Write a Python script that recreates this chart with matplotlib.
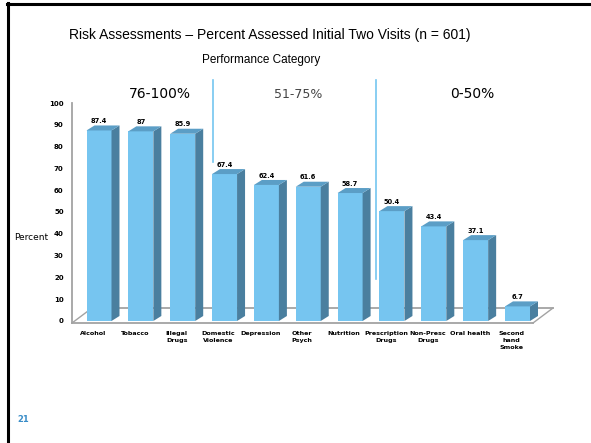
import matplotlib
matplotlib.use("Agg")
import matplotlib.pyplot as plt
from matplotlib.patches import Polygon, Rectangle
from matplotlib.lines import Line2D
import matplotlib.transforms as mtransforms

categories = ["Alcohol", "Tobacco", "Illegal\nDrugs", "Domestic\nViolence", "Depression",
              "Other\nPsych", "Nutrition", "Prescription\nDrugs", "Non-Presc\nDrugs",
              "Oral health", "Second\nhand\nSmoke"]
values = [87.4, 87, 85.9, 67.4, 62.4, 61.6, 58.7, 50.4, 43.4, 37.1, 6.7]
value_labels = ["87.4", "87", "85.9", "67.4", "62.4", "61.6", "58.7", "50.4", "43.4", "37.1", "6.7"]
yticks = [0, 10, 20, 30, 40, 50, 60, 70, 80, 90, 100]
groups = ["76-100%", "51-75%", "0-50%"]

W, H = 591, 443
fig = plt.figure(figsize=(W / 100, H / 100), dpi=100)

def fx(px):
    return px / W

def fy(py):
    return 1 - py / H

ax_l, ax_r, ax_b, ax_t = 72, 553, 323, 103
ax = fig.add_axes([fx(ax_l), fy(ax_b), (ax_r - ax_l) / W, (ax_b - ax_t) / H])
xpp = 41.85  # pixels per category
ypp = (ax_b - ax_t) / 100.92
x0 = -(99 - ax_l) / xpp
ax.set_xlim(x0, x0 + (ax_r - ax_l) / xpp)
ax.set_ylim(-0.92, 100.0)

front_c = "#76c5f0"
top_c = "#5b9ec6"
side_c = "#4a7f9f"

bw = 25 / xpp
ddx = 8 / xpp
ddy = 5 / ypp

for i, v in enumerate(values):
    xl = i - bw / 2
    xr = i + bw / 2
    ax.add_patch(Rectangle((xl, 0), bw, v, facecolor=front_c, edgecolor="none", zorder=3))
    ax.add_patch(Polygon([(xr, 0), (xr + ddx, ddy), (xr + ddx, v + ddy), (xr, v)],
                         closed=True, facecolor=side_c, edgecolor="none", zorder=3))
    ax.add_patch(Polygon([(xl, v), (xl + ddx, v + ddy), (xr + ddx, v + ddy), (xr, v)],
                         closed=True, facecolor=top_c, edgecolor="none", zorder=3))
    ax.annotate(value_labels[i], (i, v + ddy), xytext=(0, 1), textcoords="offset points",
                ha="center", va="bottom", fontsize=4.8, fontweight="bold", zorder=4)

# floor
fw = ax_r - ax_l
fh = ax_b - ax_t
gray = "#a3a3a3"
ax.add_line(Line2D([0, (533 - ax_l) / fw], [0, 0], transform=ax.transAxes, color=gray, lw=1.3, zorder=2, clip_on=False))
ax.add_line(Line2D([20 / fw, 1], [15 / fh, 15 / fh], transform=ax.transAxes, color=gray, lw=1.3, zorder=1, clip_on=False))
ax.add_line(Line2D([0, 20 / fw], [0, 15 / fh], transform=ax.transAxes, color=gray, lw=1.0, zorder=1, clip_on=False))
ax.add_line(Line2D([(533 - ax_l) / fw, 1], [0, 15 / fh], transform=ax.transAxes, color=gray, lw=1.0, zorder=1, clip_on=False))

for s in ["top", "right", "bottom"]:
    ax.spines[s].set_visible(False)
ax.spines["left"].set_color(gray)
ax.spines["left"].set_linewidth(1.3)

ax.set_yticks(yticks)
ax.set_yticklabels([str(t) for t in yticks], fontsize=5, fontweight="bold")
ax.tick_params(axis="y", length=0, pad=6)
ax.set_xticks(range(len(categories)))
ax.set_xticklabels(categories, fontsize=4.6, fontweight="bold", linespacing=1.5)
ax.tick_params(axis="x", length=0, pad=6)
offset = mtransforms.ScaledTranslation(-6 / 100, 0, fig.dpi_scale_trans)
for lab in ax.get_xticklabels():
    lab.set_transform(lab.get_transform() + offset)

# titles
fig.text(fx(270), fy(35), "Risk Assessments \u2013 Percent Assessed Initial Two Visits (n = 601)",
         ha="center", va="center", fontsize=10, family="Liberation Sans")
fig.text(fx(261), fy(60), "Performance Category", ha="center", va="center",
         fontsize=8.5, family="Liberation Sans")
fig.text(fx(31), fy(238), "Percent", ha="center", va="center", fontsize=6.5, family="DejaVu Sans")

fig.text(fx(160), fy(94), groups[0], ha="center", va="center", fontsize=10)
fig.text(fx(298), fy(94), groups[1], ha="center", va="center", fontsize=9, color="#444444")
fig.text(fx(472), fy(94), groups[2], ha="center", va="center", fontsize=10)

line_c = "#74c6f0"
fig.add_artist(Line2D([fx(213), fx(213)], [fy(80), fy(162)], transform=fig.transFigure, color=line_c, lw=1.2))
fig.add_artist(Line2D([fx(376), fx(376)], [fy(80), fy(279)], transform=fig.transFigure, color=line_c, lw=1.2))

# slide frame
fig.add_artist(Line2D([fx(8), fx(8)], [0, fy(3)], transform=fig.transFigure, color="black", lw=2.2))
fig.add_artist(Line2D([fx(7), 1], [fy(4), fy(4)], transform=fig.transFigure, color="black", lw=2.2))
fig.text(fx(23), fy(419), "21", ha="center", va="center", fontsize=6, fontweight="bold", color="#3a8dc8")

fig.savefig("out.png", dpi=100)
